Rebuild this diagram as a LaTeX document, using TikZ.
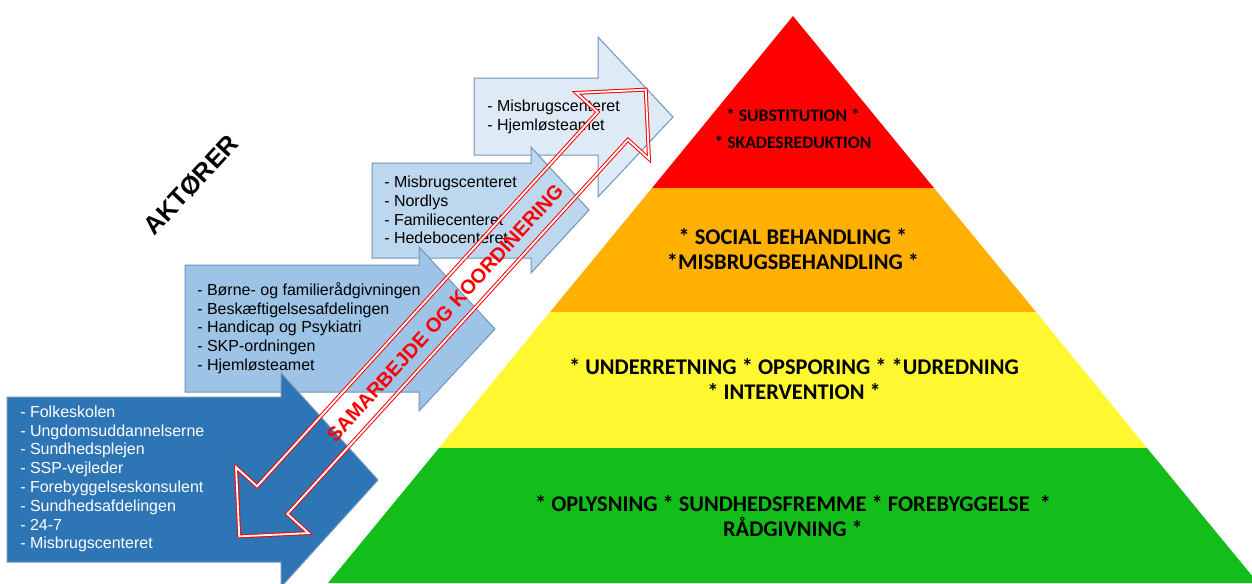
\documentclass[tikz,border=0pt]{standalone}
\usepackage{fontspec}
\setmainfont{Liberation Sans}
\newfontfamily\calfont{Carlito}
\definecolor{pred}{HTML}{FF0000}
\definecolor{porange}{HTML}{FFB000}
\definecolor{pyellow}{HTML}{FFF830}
\definecolor{pgreen}{HTML}{14BE1A}
\definecolor{arrowline}{HTML}{7194BD}
\definecolor{a1}{HTML}{DEEBF7}
\definecolor{a2}{HTML}{BDD7EE}
\definecolor{a3}{HTML}{9DC3E6}
\definecolor{a4}{HTML}{2E75B6}
\begin{document}
\begin{tikzpicture}[x=0.75pt,y=-0.75pt,
  blk/.style={draw=arrowline, line width=0.75pt, line join=miter},
  lst/.style={anchor=west, align=left, inner sep=0pt, font=\fontsize{12}{14.1}\selectfont},
  pyr/.style={align=center, inner sep=0pt, font=\calfont\bfseries\fontsize{16.8}{18.75}\selectfont},
  pyrsmall/.style={align=center, inner sep=0pt, font=\calfont\bfseries\fontsize{13.2}{20.3}\selectfont},
  coop/.style={draw=red, line width=0.75pt, double=white, double distance=1.4pt, line join=miter}]
\useasboundingbox (0,0) rectangle (1252,583);
\fill[white] (0,0) rectangle (1252,583);
\clip (0,0) rectangle (1252,583);
% pyramid
\fill[pred] (793,16) -- (934,188) -- (652,188) -- cycle;
\fill[porange] (652,188) -- (934,188) -- (1036,312) -- (550,312) -- cycle;
\fill[pyellow] (550,312) -- (1036,312) -- (1147,448) -- (439,448) -- cycle;
\fill[pgreen] (439,448) -- (1147,448) -- (1258,583) -- (328,583) -- cycle;
\node[pyrsmall] (lev1) at (793,129) {* SUBSTITUTION *\\* SKADESREDUKTION};
\node[pyr] (lev2) at (793,249.5) {* SOCIAL BEHANDLING *\\*MISBRUGSBEHANDLING *};
\node[pyr] (lev3) at (794,379.5) {* UNDERRETNING * OPSPORING * *UDREDNING\\* INTERVENTION *};
\node[pyr] (lev4) at (793,516) {* OPLYSNING * SUNDHEDSFREMME * FOREBYGGELSE \ *\\RÅDGIVNING *};
% actor arrows
\draw[blk, fill=a1] (474,78) -- (598,78) -- (598,37) -- (673,117) -- (598,197) -- (598,155) -- (474,155) -- cycle;
\node[lst] (act1) at (487,116.5) {- Misbrugscenteret\\- Hjemløsteamet};
\draw[blk, fill=a2] (372,163) -- (531,163) -- (531,147) -- (589,210) -- (531,273) -- (531,258) -- (372,258) -- cycle;
\node[lst] (act2) at (384,210) {- Misbrugscenteret\\- Nordlys\\- Familiecenteret\\- Hedebocenteret};
\draw[blk, fill=a3] (185,265) -- (419,265) -- (419,247) -- (495,329) -- (419,411) -- (419,392) -- (185,392) -- cycle;
\node[lst] (act3) at (197,328) {- Børne- og familierådgivningen\\- Beskæftigelsesafdelingen\\- Handicap og Psykiatri\\- SKP-ordningen\\- Hjemløsteamet};
\draw[blk, fill=a4] (7,397) -- (281,397) -- (281,373) -- (378,480) -- (281,587) -- (281,562) -- (7,562) -- cycle;
\node[lst, text=white] (act4) at (20,479) {- Folkeskolen\\- Ungdomsuddannelserne\\- Sundhedsplejen\\- SSP-vejleder\\- Forebyggelseskonsulent\\- Sundhedsafdelingen\\- 24-7\\- Misbrugscenteret};
% title
\node[rotate=47, inner sep=0pt, font=\bfseries\fontsize{19}{20}\selectfont] (title) at (191,185) {AKTØRER};
% cooperation double arrow
\begin{scope}[shift={(442.5,313)}, rotate=47.7]
\draw[coop] (302,0) -- (253,49) -- (253,20.5) -- (-253,20.5) -- (-253,49) -- (-302,0) -- (-253,-49) -- (-253,-20.5) -- (253,-20.5) -- (253,-49) -- cycle;
\end{scope}
\node[rotate=47.7, inner sep=0pt, text=red, font=\bfseries\fontsize{15}{16}\selectfont] (coopt) at (445,313) {SAMARBEJDE OG KOORDINERING};
\end{tikzpicture}
\end{document}
